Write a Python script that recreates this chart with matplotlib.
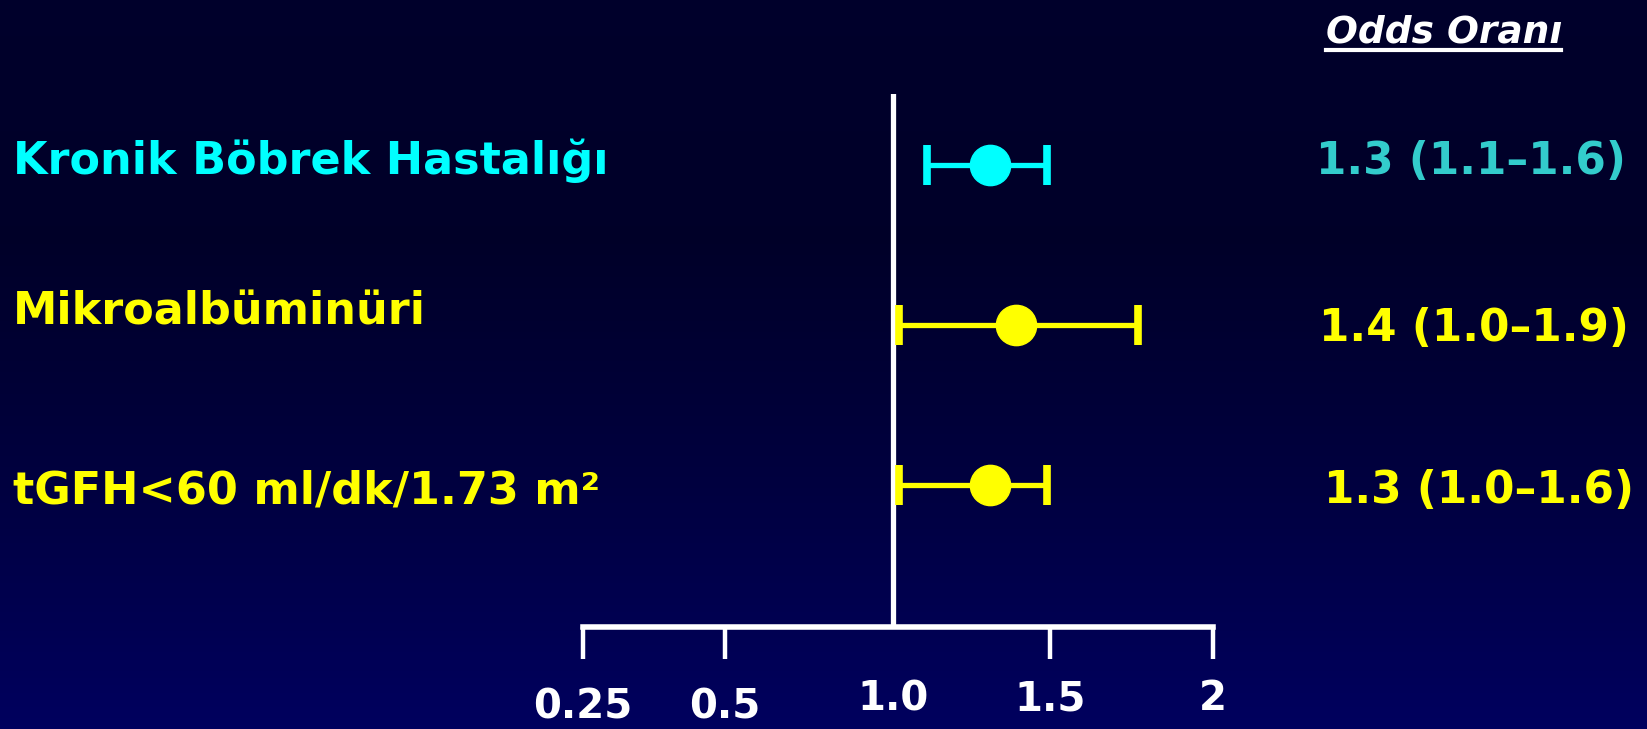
import numpy as np
import matplotlib
matplotlib.use("Agg")
import matplotlib.pyplot as plt
from matplotlib.lines import Line2D

# Veriler
labels = ["Kronik Böbrek Hastalığı", "Mikroalbüminüri", "tGFH<60 ml/dk/1.73 m²"]
or_text = ["1.3 (1.1–1.6)", "1.4 (1.0–1.9)", "1.3 (1.0–1.6)"]
or_point = [1.31, 1.39, 1.31]
ci_low = [1.11, 1.02, 1.02]
ci_high = [1.49, 1.77, 1.49]
colors = ["#00FFFF", "#FFFF00", "#FFFF00"]
text_colors = ["#00FFFF", "#FFFF00", "#FFFF00"]
or_colors = ["#33CCCC", "#FFFF00", "#FFFF00"]
xticks = [0.25, 0.5, 1.0, 1.5, 2]
xticklabels = ["0.25", "0.5", "1.0", "1.5", "2"]

# eksen uzerindeki tiklerin goreli konumu (slayttaki duzensiz olcek)
tick_frac = [0.0, 0.225, 0.4917, 0.7417, 1.0]

FONT = "DejaVu Sans"
plt.rcParams["font.family"] = [FONT]
plt.rcParams["font.weight"] = "bold"

fig = plt.figure(figsize=(16.47, 7.29), dpi=100)

# arka plan gradyani
bg = fig.add_axes([0, 0, 1, 1], zorder=-10)
grad = np.array([[0.00, 0.00, 0.17], [0.00, 0.00, 0.16], [0.00, 0.00, 0.25],
                 [0.00, 0.00, 0.37]])
yy = np.linspace(0, 1, 200)
img = np.stack([np.interp(yy, np.linspace(0, 1, len(grad)), grad[:, c])
                for c in range(3)], axis=-1)[:, None, :]
bg.imshow(img, aspect="auto", extent=[0, 1, 1, 0])
bg.set_axis_off()

ax = fig.add_axes([0.354, 0.140, 0.3825, 0.7305])
ax.patch.set_alpha(0)


def fwd(x):
    return np.interp(x, xticks, tick_frac)


def inv(y):
    return np.interp(y, tick_frac, xticks)


ax.set_xscale("function", functions=(fwd, inv))
ax.set_xlim(0.25, 2.0)
ax.set_ylim(2.884, -0.439)

ypos = np.arange(len(labels))
for i in range(len(labels)):
    ax.errorbar(or_point[i], ypos[i],
                xerr=[[or_point[i] - ci_low[i]], [ci_high[i] - or_point[i]]],
                fmt="o", color=colors[i], markersize=29, elinewidth=3.8,
                capsize=14.5, capthick=5.5, zorder=3, clip_on=False)

ax.axvline(1.0, color="white", lw=3.8, zorder=2)

for s in ["top", "right", "left"]:
    ax.spines[s].set_visible(False)
ax.spines["bottom"].set_color("white")
ax.spines["bottom"].set_linewidth(4)
ax.set_yticks([])
ax.set_xticks(xticks)
ax.set_xticklabels(xticklabels)
ax.tick_params(axis="x", direction="out", length=22.7, width=3.2,
               color="white", labelcolor="white", labelsize=29, pad=15)
ax.xaxis.set_minor_locator(matplotlib.ticker.NullLocator())
ticks = ax.xaxis.get_major_ticks()
ticks[2].tick1line.set_visible(False)
for t in ticks[:2]:
    t.set_pad(21)

# sol etiketler
label_y = [0.779, 0.572, 0.327]
for lab, yv, c in zip(labels, label_y, text_colors):
    fig.text(0.0077, yv, lab, color=c, fontsize=32, fontweight="bold",
             ha="left", va="center")

# sag: odds orani
or_x = [0.987, 0.989, 0.992]
or_y = [0.779, 0.549, 0.327]
for t, xv, yv, c in zip(or_text, or_x, or_y, or_colors):
    fig.text(xv, yv, t, color=c, fontsize=31.5, fontweight="bold",
             ha="right", va="center")

fig.text(0.877, 0.956, "Odds Oranı", color="white", fontsize=27,
         fontweight="bold", fontstyle="italic", ha="center", va="center")
fig.add_artist(Line2D([0.805, 0.948], [0.931, 0.931], color="white", lw=3,
                      transform=fig.transFigure))

fig.savefig("out.png", dpi=100)
